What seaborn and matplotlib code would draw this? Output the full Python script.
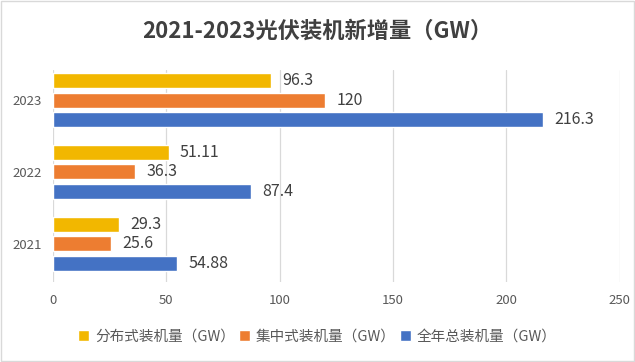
import matplotlib
matplotlib.use("Agg")
import matplotlib.pyplot as plt
import seaborn as sns
import pandas as pd
from matplotlib.patches import Rectangle

years = ["2023", "2022", "2021"]
series = ["分布式装机量（GW）", "集中式装机量（GW）", "全年总装机量（GW）"]
distributed = [96.3, 51.11, 29.3]
centralized = [120, 36.3, 25.6]
total = [216.3, 87.4, 54.88]
label_text = {
    series[0]: ["96.3", "51.11", "29.3"],
    series[1]: ["120", "36.3", "25.6"],
    series[2]: ["216.3", "87.4", "54.88"],
}
colors = ["#F2B700", "#ED7D31", "#4472C4"]

rows = []
for s, vals in zip(series, [distributed, centralized, total]):
    for y, v in zip(years, vals):
        rows.append({"year": y, "series": s, "value": v})
df = pd.DataFrame(rows)

sns.set_theme(style="white")
plt.rcParams['font.family'] = ['Noto Sans CJK SC', 'DejaVu Sans']

fig = plt.figure(figsize=(6.35, 3.62), dpi=100)
ax = fig.add_axes([0.0835, 0.221, 0.8925, 0.586])

sns.barplot(data=df, y="year", x="value", hue="series", order=years,
            hue_order=series, palette=colors, orient="h", width=0.8, gap=0.22,
            ax=ax, legend=True, saturation=1, errorbar=None)

for cont, s in zip(ax.containers, series):
    ax.bar_label(cont, labels=label_text[s], padding=8, fontsize=11.5, color="#404040")

ax.set_xlim(0, 250)
ax.set_xticks([0, 50, 100, 150, 200, 250])
ax.set_ylim(2.53, -0.42)
ax.grid(axis="x", color="#D9D9D9", linewidth=0.9)
ax.set_axisbelow(True)
for sp in ax.spines.values():
    sp.set_visible(False)
ax.set_xlabel("")
ax.set_ylabel("")
ax.tick_params(axis="both", length=0, labelsize=9.5, labelcolor="#595959")
ax.tick_params(axis="x", pad=9)
ax.tick_params(axis="y", pad=8)

handles, labels = ax.get_legend_handles_labels()
ax.legend_.remove()
fig.legend(handles, labels, loc="center", bbox_to_anchor=(0.5, 0.07), ncol=3,
           frameon=False, fontsize=10.5, handlelength=0.75, handleheight=0.75,
           handletextpad=0.4, columnspacing=0.3, labelcolor="#595959")

fig.text(0.5, 0.915, "2021-2023光伏装机新增量（GW）", ha="center", va="center",
         fontsize=16, fontweight="bold", color="#404040")

fig.patches.append(Rectangle((0.001, 0.002), 0.997, 0.995, transform=fig.transFigure,
                             fill=False, edgecolor="#D9D9D9", linewidth=1))

fig.savefig("out.png", dpi=100)
